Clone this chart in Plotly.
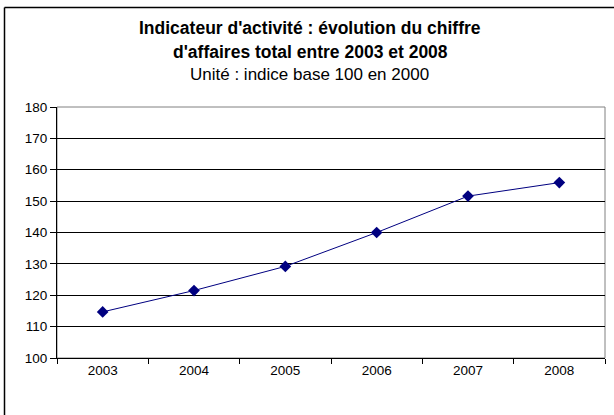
import plotly.graph_objects as go

years = ["2003", "2004", "2005", "2006", "2007", "2008"]
values = [114.7, 121.5, 129.2, 140.0, 151.6, 155.9]
y_ticks = [100, 110, 120, 130, 140, 150, 160, 170, 180]

title_line1 = "Indicateur d'activité : évolution du chiffre"
title_line2 = "d'affaires total entre 2003 et 2008"
subtitle = "Unité : indice base 100 en 2000"

W, H = 614, 415
L, R, T, B = 57, 9, 107, 57
pw, ph = W - L - R, H - T - B

def px_x(p):
    return (p - L) / pw

def px_y(p):
    return (H - B - p) / ph

fig = go.Figure()
fig.add_trace(go.Scatter(
    x=years, y=values, mode="lines+markers",
    line=dict(color="#000080", width=1),
    marker=dict(symbol="diamond", size=9, color="#000080"),
    showlegend=False, hoverinfo="x+y",
))

fig.update_layout(
    width=W, height=H,
    margin=dict(l=L, r=R, t=T, b=B),
    paper_bgcolor="white", plot_bgcolor="white",
    font=dict(family="Liberation Sans, Arial, sans-serif", color="black", size=13),
    xaxis=dict(
        type="category", range=[-0.5, 5.5], showgrid=False,
        showline=True, linecolor="black", linewidth=1,
        ticks="outside", tickson="boundaries", ticklen=5, tickcolor="black",
        tickfont=dict(size=13.5), fixedrange=True,
    ),
    yaxis=dict(
        range=[100, 180], tickvals=y_ticks, showgrid=True, gridcolor="black", gridwidth=1,
        showline=True, linecolor="black", linewidth=1, zeroline=False,
        ticks="outside", ticklen=6, tickcolor="black", tickfont=dict(size=13.5),
        fixedrange=True,
    ),
    shapes=[
        dict(type="rect", xref="paper", yref="paper", x0=0, x1=1, y0=0, y1=1,
             line=dict(color="#808080", width=1), layer="below"),
        dict(type="line", xref="paper", yref="paper",
             x0=px_x(4.5), x1=px_x(4.5), y0=px_y(H + 5), y1=px_y(7.5),
             line=dict(color="black", width=1.5), layer="above"),
        dict(type="line", xref="paper", yref="paper",
             x0=px_x(4.5), x1=px_x(W + 5), y0=px_y(7.5), y1=px_y(7.5),
             line=dict(color="black", width=1.5), layer="above"),
    ],
    annotations=[
        dict(text="<b>" + title_line1 + "</b>", xref="paper", yref="paper",
             x=px_x(310), y=px_y(28), xanchor="center", yanchor="middle",
             showarrow=False, font=dict(size=17.5)),
        dict(text="<b>" + title_line2 + "</b>", xref="paper", yref="paper",
             x=px_x(310), y=px_y(52), xanchor="center", yanchor="middle",
             showarrow=False, font=dict(size=17.5)),
        dict(text=subtitle, xref="paper", yref="paper",
             x=px_x(309), y=px_y(75), xanchor="center", yanchor="middle",
             showarrow=False, font=dict(size=17)),
    ],
)

fig.write_html(
    "out.html", config={"displayModeBar": False},
    post_script=(
        "document.body.style.margin='0';"
        "document.body.style.overflow='hidden';"
        "document.documentElement.style.overflow='hidden';"
    ),
)
